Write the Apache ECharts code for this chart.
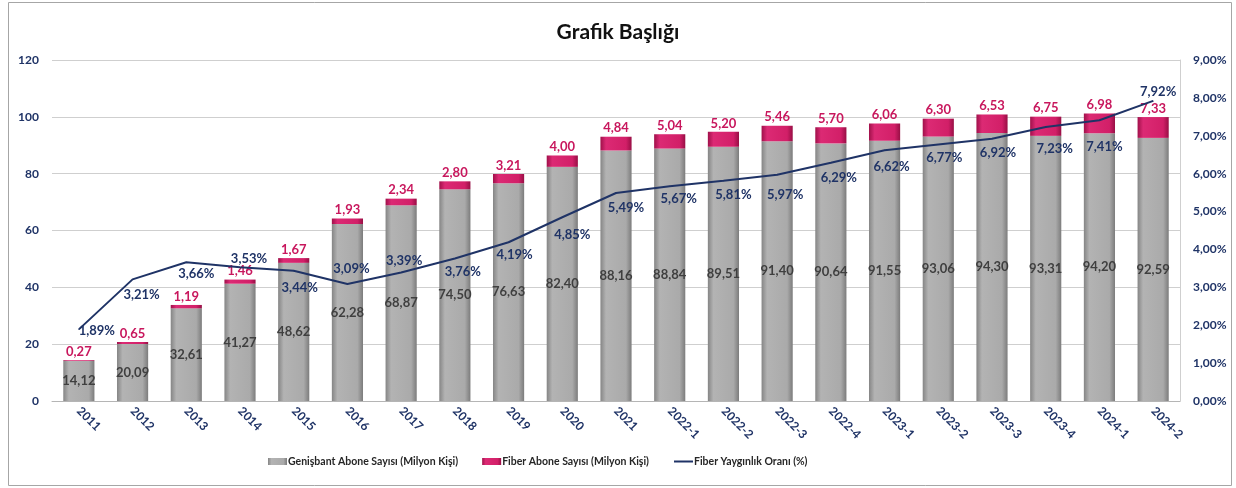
<!DOCTYPE html>
<html>
<head>
<meta charset="utf-8">
<script src="https://cdn.jsdelivr.net/npm/echarts@6/dist/echarts.min.js"></script>
<style>
  html, body { margin: 0; padding: 0; background: #fff; }
  #chart { width: 1236px; height: 488px; }
</style>
</head>
<body>
<div id="chart"></div>
<script>
// kategoriler
const categories = ["2011", "2012", "2013", "2014", "2015", "2016", "2017", "2018", "2019", "2020", "2021",
  "2022-1", "2022-2", "2022-3", "2022-4", "2023-1", "2023-2", "2023-3", "2023-4", "2024-1", "2024-2"];
// Genişbant abone sayısı (milyon)
const genisbant = [14.12, 20.09, 32.61, 41.27, 48.62, 62.28, 68.87, 74.50, 76.63, 82.40, 88.16,
  88.84, 89.51, 91.40, 90.64, 91.55, 93.06, 94.30, 93.31, 94.20, 92.59];
// Fiber abone sayısı (milyon)
const fiber = [0.27, 0.65, 1.19, 1.46, 1.67, 1.93, 2.34, 2.80, 3.21, 4.00, 4.84,
  5.04, 5.20, 5.46, 5.70, 6.06, 6.30, 6.53, 6.75, 6.98, 7.33];
// Fiber yaygınlık oranı (%)
const oran = [1.89, 3.21, 3.66, 3.53, 3.44, 3.09, 3.39, 3.76, 4.19, 4.85, 5.49,
  5.67, 5.81, 5.97, 6.29, 6.62, 6.77, 6.92, 7.23, 7.41, 7.92];
// sol ve sağ eksen
const leftMax = 120, leftStep = 20;
const rightMax = 9, rightStep = 1;

// oran etiketlerinin noktaya göre kayması (px)
const oranOffset = [[18, 1], [9, 15], [10, 11], [9, -8], [6, 17], [4, -15], [3, -12], [8, 13], [6, 13], [10, 18], [10, 15],
  [9, 13], [10, 14], [8, 20], [8, 15], [7, 17], [6, 13], [6, 14], [9, 22], [5, 27], [5, -9]];

const FONT = "Lato";
const NAVY = "#1f3366";
const fmt = (v) => v.toFixed(2).replace(".", ",");

const grayFill = new echarts.graphic.LinearGradient(0, 0, 1, 0, [
  { offset: 0, color: "#858585" },
  { offset: 0.18, color: "#b3b3b3" },
  { offset: 0.82, color: "#aaaaaa" },
  { offset: 1, color: "#7c7c7c" }
]);
const pinkFill = new echarts.graphic.LinearGradient(0, 0, 1, 0, [
  { offset: 0, color: "#a0104a" },
  { offset: 0.18, color: "#dc2a74" },
  { offset: 0.82, color: "#d21f68" },
  { offset: 1, color: "#980f45" }
]);

const myChart = echarts.init(document.getElementById("chart"));

let oranData = [];
for (let i = 0; i < oran.length; i++) {
  oranData.push({
    value: oran[i],
    label: { offset: oranOffset[i] }
  });
}

const option = {
  animation: false,
  textStyle: { fontFamily: FONT },
  title: {
    text: "Grafik Başlığı",
    left: "center",
    top: 17,
    textStyle: { fontFamily: FONT, fontSize: 21, fontWeight: "bold", color: "#111" }
  },
  graphic: [{
    type: "rect",
    shape: { x: 8.5, y: 2.5, width: 1223, height: 483 },
    style: { fill: "none", stroke: "#a6a6a6", lineWidth: 1 },
    silent: true
  }],
  legend: {
    bottom: 16,
    left: 263,
    itemGap: 24,
    itemWidth: 19,
    itemHeight: 7,
    textStyle: { fontFamily: FONT, fontSize: 10.5, fontWeight: "bold", color: "#262626", padding: [0, 0, 0, -4] },
    data: [
      { name: "Genişbant Abone Sayısı (Milyon Kişi)", icon: "rect" },
      { name: "Fiber Abone Sayısı (Milyon Kişi)", icon: "rect" },
      { name: "Fiber Yaygınlık Oranı (%)", itemStyle: { opacity: 0 } }
    ]
  },
  grid: { left: 52, right: 56, top: 60, bottom: 87 },
  xAxis: {
    type: "category",
    data: categories,
    axisLine: { lineStyle: { color: "#b5b5b5" } },
    axisTick: { show: false },
    axisLabel: {
      rotate: -45,
      interval: 0,
      margin: 8,
      color: NAVY,
      fontFamily: FONT,
      fontSize: 12,
      fontWeight: "bold"
    }
  },
  yAxis: [
    {
      type: "value",
      min: 0,
      max: leftMax,
      interval: leftStep,
      axisLine: { show: false },
      axisTick: { show: false },
      splitLine: { lineStyle: { color: "#cfcfcf" } },
      axisLabel: { margin: 13, color: NAVY, fontFamily: FONT, fontSize: 12, fontWeight: "bold" }
    },
    {
      type: "value",
      min: 0,
      max: rightMax,
      interval: rightStep,
      position: "right",
      axisLine: { show: true, lineStyle: { color: "#cfcfcf" } },
      axisTick: { show: false },
      splitLine: { show: false },
      axisLabel: {
        margin: 13,
        color: NAVY,
        fontFamily: FONT,
        fontSize: 12,
        fontWeight: "bold",
        formatter: (v) => fmt(v) + "%"
      }
    }
  ],
  series: [
    {
      name: "Genişbant Abone Sayısı (Milyon Kişi)",
      type: "bar",
      stack: "abone",
      barWidth: "58%",
      data: genisbant,
      itemStyle: { color: grayFill },
      label: {
        show: true,
        position: "inside",
        color: "#3f3f3f",
        fontFamily: FONT,
        fontSize: 13,
        fontWeight: "bold",
        formatter: (p) => fmt(p.value)
      }
    },
    {
      name: "Fiber Abone Sayısı (Milyon Kişi)",
      type: "bar",
      stack: "abone",
      data: fiber,
      itemStyle: { color: pinkFill },
      label: {
        show: true,
        position: "top",
        distance: 2,
        color: "#c8175d",
        fontFamily: FONT,
        fontSize: 13,
        fontWeight: "bold",
        formatter: (p) => fmt(p.value)
      }
    },
    {
      name: "Fiber Yaygınlık Oranı (%)",
      type: "line",
      yAxisIndex: 1,
      data: oranData,
      symbol: "circle",
      symbolSize: 1,
      itemStyle: { color: NAVY },
      lineStyle: { color: NAVY, width: 2 },
      z: 5,
      label: {
        show: true,
        position: "inside",
        color: NAVY,
        fontFamily: FONT,
        fontSize: 13,
        fontWeight: "bold",
        formatter: (p) => fmt(p.value) + "%"
      }
    }
  ]
};

myChart.setOption(option);
</script>
</body>
</html>
